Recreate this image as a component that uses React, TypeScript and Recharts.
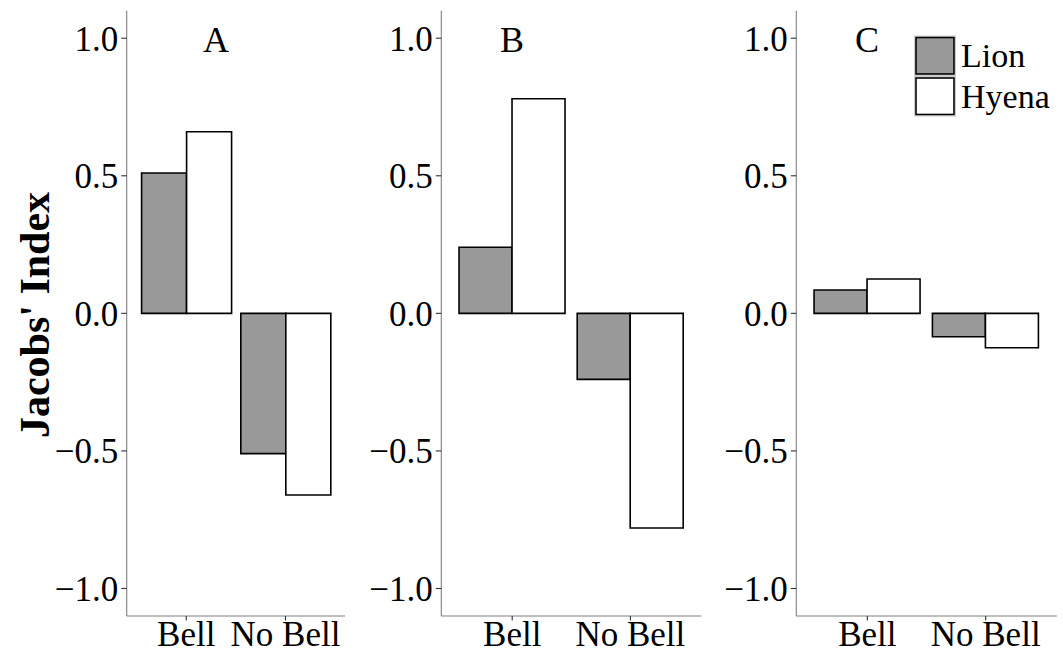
import { BarChart, Bar, XAxis, YAxis } from 'recharts'

// categories and series values
const categories = ['Bell', 'No Bell']
const seriesNames = ['Lion', 'Hyena']
const lionA = [0.51, -0.51]
const hyenaA = [0.66, -0.66]
const lionB = [0.24, -0.24]
const hyenaB = [0.78, -0.78]
const lionC = [0.085, -0.085]
const hyenaC = [0.125, -0.125]
const yTicks = [-1, -0.5, 0, 0.5, 1]
const panelTitles = ['A', 'B', 'C']
const yTitle = "Jacobs' Index"

const FONT = 'Liberation Serif, Times New Roman, serif'
const W = 1063
const H = 653
const TOP = 10.7
const BOTTOM = 616
const XH = 37
const YW = 60
const BORDER = '#7f7f7f'
const LION_FILL = '#999999'
const HYENA_FILL = '#ffffff'

const panels = [
  { lion: lionA, hyena: hyenaA, left: 126.7, right: 345, titleX: 216, legend: false, yTitle: true },
  { lion: lionB, hyena: hyenaB, left: 441.3, right: 701.3, titleX: 512, legend: false, yTitle: false },
  { lion: lionC, hyena: hyenaC, left: 796.3, right: 1056.7, titleX: 867, legend: true, yTitle: false },
]

const fmt = (v: number) => (v < 0 ? '\u2212' : '') + Math.abs(v).toFixed(1)

function LegendBox() {
  const fills = [LION_FILL, HYENA_FILL]
  return (
    <g>
      {seriesNames.map((name, i) => {
        const y = 36 + i * 40.5
        return (
          <g key={name}>
            <rect x={914.5} y={y} width={41} height={39.5} fill="none" stroke="#cccccc" strokeWidth={1} />
            <rect x={916} y={y + 1.5} width={38} height={36.5} fill={fills[i]} stroke="#000" strokeWidth={1.6} />
            <text x={961} y={y + 31} fontFamily={FONT} fontSize={34} fill="#000">
              {name}
            </text>
          </g>
        )
      })}
    </g>
  )
}

function Panel({ idx }: { idx: number }) {
  const p = panels[idx]
  const data = categories.map((c, i) => ({ name: c, lion: p.lion[i], hyena: p.hyena[i] }))
  const pad = (p.right - p.left) / 22
  return (
    <div style={{ position: 'absolute', left: 0, top: 0 }}>
      <BarChart
        width={W}
        height={H}
        data={data}
        margin={{ top: TOP, bottom: H - BOTTOM - XH, left: p.left - YW, right: W - p.right }}
        barCategoryGap="5%"
        barGap={0}
      >
        <XAxis
          dataKey="name"
          height={XH}
          interval={0}
          padding={{ left: pad, right: pad }}
          tickSize={4.5}
          tickMargin={1}
          tickLine={{ stroke: '#333333', strokeWidth: 1.1 }}
          axisLine={{ stroke: BORDER, strokeWidth: 1.1 }}
          tick={{ fill: '#000', fontSize: 35, fontFamily: FONT }}
        />
        <XAxis xAxisId="top" dataKey="name" orientation="top" height={0} tick={false} tickLine={false}
          axisLine={{ stroke: BORDER, strokeWidth: 1.1 }} />
        <YAxis
          width={YW}
          domain={[-1.1, 1.1]}
          ticks={yTicks}
          interval={0}
          allowDataOverflow
          tickFormatter={fmt}
          tickSize={5.5}
          tickMargin={3}
          tickLine={{ stroke: '#333333', strokeWidth: 1.1 }}
          axisLine={{ stroke: BORDER, strokeWidth: 1.1 }}
          tick={{ fill: '#000', fontSize: 35, fontFamily: FONT }}
          label={
            p.yTitle
              ? () => (
                  <text
                    x={49}
                    y={315}
                    transform="rotate(-90 49 315)"
                    textAnchor="middle"
                    fontFamily={FONT}
                    fontWeight="bold"
                    fontSize={42}
                    fill="#000"
                  >
                    {yTitle}
                  </text>
                )
              : undefined
          }
        />
        <YAxis yAxisId="right" orientation="right" width={0} domain={[-1.1, 1.1]} tick={false} tickLine={false}
          axisLine={{ stroke: BORDER, strokeWidth: 1.1 }} />
        <Bar dataKey="lion" name={seriesNames[0]} fill={LION_FILL} stroke="#000" strokeWidth={1.6} isAnimationActive={false} />
        <Bar dataKey="hyena" name={seriesNames[1]} fill={HYENA_FILL} stroke="#000" strokeWidth={1.6} isAnimationActive={false} />
        <text x={p.titleX} y={52} textAnchor="middle" fontFamily={FONT} fontSize={36} fill="#000">
          {panelTitles[idx]}
        </text>
        {p.legend ? <LegendBox /> : null}
      </BarChart>
    </div>
  )
}

export default function App() {
  return (
    <div style={{ position: 'absolute', left: 0, top: 0, width: W, height: H, background: '#fff' }}>
      {panels.map((_, i) => (
        <Panel key={i} idx={i} />
      ))}
    </div>
  )
}
